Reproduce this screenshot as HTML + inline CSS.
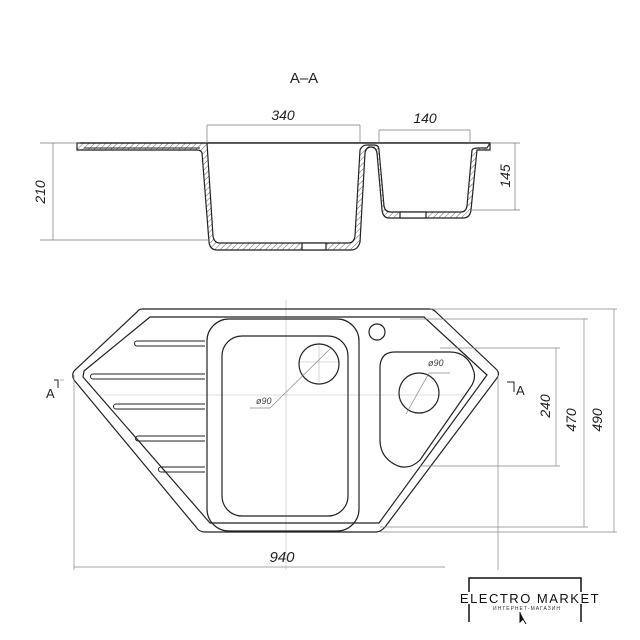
<!DOCTYPE html><html><head><style>body{margin:0;background:#fff}svg{display:block}text{font-family:"Liberation Sans",sans-serif;font-style:italic}</style></head><body>
<svg width="640" height="640" viewBox="0 0 640 640" xmlns="http://www.w3.org/2000/svg">
<defs><pattern id="h" width="4" height="4" patternUnits="userSpaceOnUse" patternTransform="rotate(45)"><line x1="0" y1="0" x2="0" y2="4" stroke="#666" stroke-width="1"/></pattern></defs>
<g fill="none" stroke="#222" stroke-width="1.2">
<text x="304" y="83" font-size="15" fill="#222" stroke="none" text-anchor="middle" style="font-style:normal">A–A</text>
<!-- section -->
<path d="M77 143 L490 143 L490 150 L477 150 L471 210 Q470 218 463 218 L389 218 Q383 218 382 210 L377 153 Q376 147 371 147 Q366 147 365 153 L360 242 Q358 250 351 250 L217 250 Q210 250 209 242 L202 153 Q201 150 197 150 L77 150 Z" fill="url(#h)"/>
<path d="M207 143 L213 236 Q214 243 220 243 L348 243 Q354 243 355 236 L360 150 Q362 145 367 145 L374 145 Q379 145 379 150 L384 206 Q385 212 391 212 L461 212 Q466 212 467 206 L472 150 Q473 148 478 148 L487 148 L490 143 Z" fill="#fff"/>
<line x1="84" y1="148" x2="200" y2="148" stroke-width="1"/>
<line x1="77" y1="143" x2="490" y2="143"/>
<rect x="302" y="243" width="24" height="7" fill="#fff"/>
<rect x="400" y="212" width="26" height="6" fill="#fff"/>
<g stroke="#777" stroke-width="0.7">
<line x1="207" y1="125" x2="360" y2="125"/><line x1="207" y1="125" x2="207" y2="143"/><line x1="360" y1="125" x2="360" y2="143"/>
<line x1="379" y1="130" x2="470" y2="130"/><line x1="379" y1="130" x2="379" y2="143"/><line x1="470" y1="130" x2="470" y2="143"/>
<line x1="40" y1="143" x2="80" y2="143"/><line x1="40" y1="240" x2="210" y2="240"/><line x1="53" y1="143" x2="53" y2="240"/>
<line x1="490" y1="143" x2="520" y2="143"/><line x1="470" y1="210" x2="520" y2="210"/><line x1="515" y1="143" x2="515" y2="210"/>
</g>
<text x="283" y="120" font-size="14" fill="#222" stroke="none" text-anchor="middle">340</text>
<text x="425" y="123" font-size="14" fill="#222" stroke="none" text-anchor="middle">140</text>
<text transform="translate(45,192) rotate(-90)" font-size="14" fill="#222" stroke="none" text-anchor="middle">210</text>
<text transform="translate(510,176) rotate(-90)" font-size="14" fill="#222" stroke="none" text-anchor="middle">145</text>
<!-- plan -->
<g stroke="#bbb" stroke-width="0.6"><line x1="286" y1="300" x2="286" y2="570"/><line x1="100" y1="395" x2="480" y2="395"/><line x1="300" y1="362" x2="340" y2="362"/><line x1="319" y1="342" x2="319" y2="382"/></g>
<path d="M142 309 L430 309 Q433 309 436 312 L497 370 Q500 374 497 378 L385 527 Q381 532 375 532 L205 532 Q199 532 196 527 L74 380 Q71 374 75 370 L137 312 Q139 309 142 309 Z"/>
<path d="M150 317 L424 317 L487 375 L379 523 L210 523 L83 377 L84 371 Z"/>
<rect x="207" y="319" width="152" height="212" rx="22"/>
<rect x="222" y="336" width="126" height="180" rx="20"/>
<circle cx="319" cy="364" r="20"/><circle cx="377" cy="332" r="8"/>
<path d="M395 352 L450 352 Q468 352 474 372 Q476 380 470 388 L420 460 Q410 470 398 466 Q380 458 380 440 L380 368 Q380 352 395 352 Z"/>
<circle cx="419" cy="393" r="20"/>
<g stroke-width="1"><path d="M137 341 L205 341 M137 346 L205 346 M137 341 A2.5 2.5 0 0 0 137 346"/>
<path d="M93 374 L205 374 M93 379 L205 379 M93 374 A2.5 2.5 0 0 0 93 379"/>
<path d="M116 404 L205 404 M116 409 L205 409 M116 404 A2.5 2.5 0 0 0 116 409"/>
<path d="M138 436 L205 436 M138 441 L205 441 M138 436 A2.5 2.5 0 0 0 138 441"/>
<path d="M161 467 L205 467 M161 472 L205 472 M161 467 A2.5 2.5 0 0 0 161 472"/></g>
<g stroke="#888" stroke-width="0.7"><line x1="250" y1="408" x2="270" y2="408"/><line x1="270" y1="408" x2="331" y2="348"/><line x1="406" y1="414" x2="429" y2="373"/><line x1="429" y1="373" x2="450" y2="373"/></g>
<text x="256" y="404" font-size="9" fill="#444" stroke="none">ø90</text>
<text x="428" y="366" font-size="9" fill="#444" stroke="none">ø90</text>
<g stroke="#888" stroke-width="0.7">
<line x1="440" y1="348" x2="560" y2="348"/><line x1="420" y1="466" x2="560" y2="466"/><line x1="556" y1="348" x2="556" y2="466"/>
<line x1="400" y1="319" x2="588" y2="319"/><line x1="380" y1="527" x2="588" y2="527"/><line x1="584" y1="319" x2="584" y2="527"/>
<line x1="430" y1="309" x2="617" y2="309"/><line x1="380" y1="532" x2="617" y2="532"/><line x1="614" y1="309" x2="614" y2="532"/>
<line x1="74" y1="375" x2="74" y2="570"/><line x1="498" y1="375" x2="498" y2="570"/><line x1="74" y1="567" x2="445" y2="567"/>
<line x1="60" y1="380" x2="64" y2="380"/></g>
<text x="282" y="562" font-size="15" fill="#222" stroke="none" text-anchor="middle">940</text>
<text x="46" y="398" font-size="13" fill="#222" stroke="none" style="font-style:normal">A</text>
<path d="M54 380 L58 380 L58 388" stroke-width="1"/>
<path d="M507 382 L514 382 L514 392" stroke-width="1"/>
<text x="516" y="395" font-size="13" fill="#222" stroke="none" style="font-style:normal">A</text>
<text transform="translate(550,406) rotate(-90)" font-size="14" fill="#222" stroke="none" text-anchor="middle">240</text>
<text transform="translate(576,420) rotate(-90)" font-size="14" fill="#222" stroke="none" text-anchor="middle">470</text>
<text transform="translate(602,420) rotate(-90)" font-size="14" fill="#222" stroke="none" text-anchor="middle">490</text>
<path d="M469 592 L469 578 L581 578 L581 592 M469 604 L469 622 M581 604 L581 622" stroke="#111" stroke-width="1.5"/>
</g>
<text x="530" y="603" font-size="13" fill="#111" text-anchor="middle" style="font-style:normal;letter-spacing:1.5px">ELECTRO MARKET</text>
<text x="527" y="610" font-size="5" fill="#333" text-anchor="middle" style="font-style:normal;letter-spacing:1px">ИНТЕРНЕТ-МАГАЗИН</text>
<path d="M520 612 L520 622 L523 619 L526 624" fill="#111" stroke="#111" stroke-width="1"/>
</svg></body></html>
